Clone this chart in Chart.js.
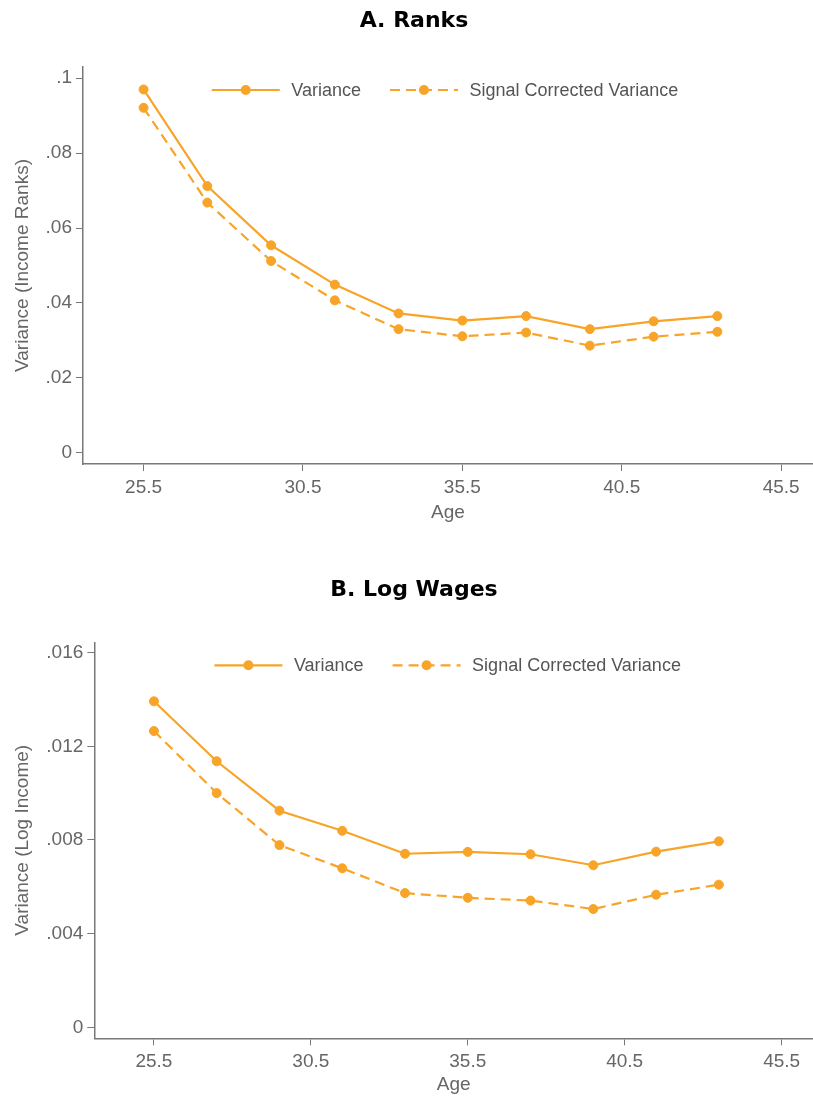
<!DOCTYPE html>
<html>
<head>
<meta charset="utf-8">
<script src="https://cdn.jsdelivr.net/npm/chart.js@4/dist/chart.umd.min.js"></script>
<style>
  html, body { margin: 0; padding: 0; background: #ffffff; }
  canvas { display: block; }
</style>
</head>
<body>
<canvas id="c1" width="813" height="548"></canvas>
<canvas id="c2" width="813" height="549"></canvas>
<script>
// ---- data ----
const ages = [25.5, 27.5, 29.5, 31.5, 33.5, 35.5, 37.5, 39.5, 41.5, 43.5];
const ranksVariance = [0.0970, 0.0712, 0.0554, 0.0449, 0.0372, 0.0353, 0.0365, 0.0330, 0.0351, 0.0365];
const ranksCorrected = [0.0921, 0.0668, 0.0512, 0.0407, 0.0330, 0.0311, 0.0321, 0.0286, 0.0310, 0.0323];
const logVariance = [0.01392, 0.01136, 0.00925, 0.00839, 0.00741, 0.00749, 0.00739, 0.00692, 0.00750, 0.00794];
const logCorrected = [0.01265, 0.01000, 0.00778, 0.00679, 0.00573, 0.00553, 0.00541, 0.00505, 0.00566, 0.00609];
const ageTicks = [25.5, 30.5, 35.5, 40.5, 45.5];
const rankTicks = [0, 0.02, 0.04, 0.06, 0.08, 0.1];
const logTicks = [0, 0.004, 0.008, 0.012, 0.016];
const seriesNames = ['Variance', 'Signal Corrected Variance'];

// ---- styling ----
const ORANGE = '#f7a428';
const AXIS = '#787878';
const TICKTXT = '#666666';
const LEGTXT = '#555555';
const SANS = "'Liberation Sans', Arial, sans-serif";

function fmtY(v) { return v === 0 ? '0' : String(v).replace(/^0\./, '.'); }

const insideLegend = {
  id: 'insideLegend',
  afterDraw(chart, args, opts) {
    const ctx = chart.ctx;
    const area = chart.chartArea;
    ctx.save();
    ctx.font = '18px ' + SANS;
    const lineLen = 68, gapText = 11.5, gapItem = 29;
    const items = chart.data.datasets.map(ds => ({ds, w: ctx.measureText(ds.label).width}));
    let total = 0;
    items.forEach((it, i) => { total += lineLen + gapText + it.w + (i < items.length - 1 ? gapItem : 0); });
    let x = (area.left + area.right) / 2 - opts.shift - total / 2;
    const y = area.top + 23;
    items.forEach(it => {
      ctx.strokeStyle = it.ds.borderColor;
      ctx.lineWidth = it.ds.borderWidth;
      ctx.setLineDash(it.ds.borderDash || []);
      ctx.beginPath(); ctx.moveTo(x, y); ctx.lineTo(x + lineLen, y); ctx.stroke();
      ctx.setLineDash([]);
      ctx.fillStyle = it.ds.pointBackgroundColor;
      ctx.beginPath(); ctx.arc(x + lineLen / 2, y, 5, 0, Math.PI * 2); ctx.fill();
      ctx.fillStyle = LEGTXT;
      ctx.textBaseline = 'middle';
      ctx.textAlign = 'left';
      ctx.fillText(it.ds.label, x + lineLen + gapText, y + 1);
      x += lineLen + gapText + it.w + gapItem;
    });
    ctx.restore();
  }
};

function makeChart(id, cfg) {
  const pts = (data) => ages.map((a, i) => ({x: a, y: data[i]}));
  const ds = (label, data, dash) => ({
    label, data: pts(data), borderColor: ORANGE, backgroundColor: ORANGE,
    borderWidth: 2.2, borderDash: dash, tension: 0,
    pointRadius: 4.5, pointBorderWidth: 1, pointBackgroundColor: ORANGE, pointBorderColor: ORANGE
  });
  return new Chart(document.getElementById(id), {
    type: 'line',
    data: { datasets: [ds(seriesNames[0], cfg.v1, []), ds(seriesNames[1], cfg.v2, [10, 6])] },
    plugins: [insideLegend],
    options: {
      responsive: false, animation: false, devicePixelRatio: 1,
      layout: { autoPadding: false, padding: { left: 15, right: 0, top: 0, bottom: 0 } },
      plugins: {
        legend: { display: false },
        tooltip: { enabled: false },
        insideLegend: { shift: cfg.legendShift },
        title: {
          display: true, text: cfg.title, color: '#000000',
          font: { family: "'DejaVu Sans', sans-serif", size: 22, weight: 'bold', lineHeight: 1.2 },
          padding: cfg.titlePad
        }
      },
      scales: {
        x: {
          type: 'linear', min: 23.6, max: 46.5,
          afterBuildTicks: s => { s.ticks = ageTicks.map(v => ({value: v})); },
          afterFit: s => { s.height = cfg.xHeight; s.paddingRight = 0; s.paddingLeft = 0; },
          ticks: { color: TICKTXT, font: { family: SANS, size: 19 }, padding: 5, maxRotation: 0,
                   callback: v => Number(v).toFixed(1) },
          grid: { drawOnChartArea: false, drawTicks: true, tickLength: 7, color: AXIS, lineWidth: 1 },
          border: { display: true, color: AXIS, width: 1.5 },
          title: { display: true, text: 'Age', color: TICKTXT, font: { family: SANS, size: 19, lineHeight: 1.2 },
                   padding: { top: 0, bottom: cfg.ageBottom } }
        },
        y: {
          type: 'linear', min: cfg.ymin, max: cfg.ymax,
          afterBuildTicks: s => { s.ticks = cfg.yTicks.map(v => ({value: v})); },
          afterFit: s => { s.width = cfg.yWidth; },
          ticks: { color: TICKTXT, font: { family: SANS, size: 19 }, padding: 4, callback: v => fmtY(v) },
          grid: { drawOnChartArea: false, drawTicks: true, tickLength: 7, color: AXIS, lineWidth: 1 },
          border: { display: true, color: AXIS, width: 1.5 },
          title: { display: true, text: cfg.ytitle, color: TICKTXT, font: { family: SANS, size: 19, lineHeight: 1.2 },
                   padding: { top: -4, bottom: 0 } }
        }
      }
    }
  });
}

makeChart('c1', {
  title: 'A. Ranks', v1: ranksVariance, v2: ranksCorrected,
  ymin: -0.003, ymax: 0.103, yTicks: rankTicks, ytitle: 'Variance (Income Ranks)',
  titlePad: { top: 8.5, bottom: 32.1 }, xHeight: 84, yWidth: 68, ageBottom: 23.6, legendShift: 3
});
makeChart('c2', {
  title: 'B. Log Wages', v1: logVariance, v2: logCorrected,
  ymin: -0.00047, ymax: 0.01644, yTicks: logTicks, ytitle: 'Variance (Log Income)',
  titlePad: { top: 29.3, bottom: 38.6 }, xHeight: 58.7, yWidth: 79.3, ageBottom: 0.6, legendShift: 6
});
</script>
</body>
</html>
